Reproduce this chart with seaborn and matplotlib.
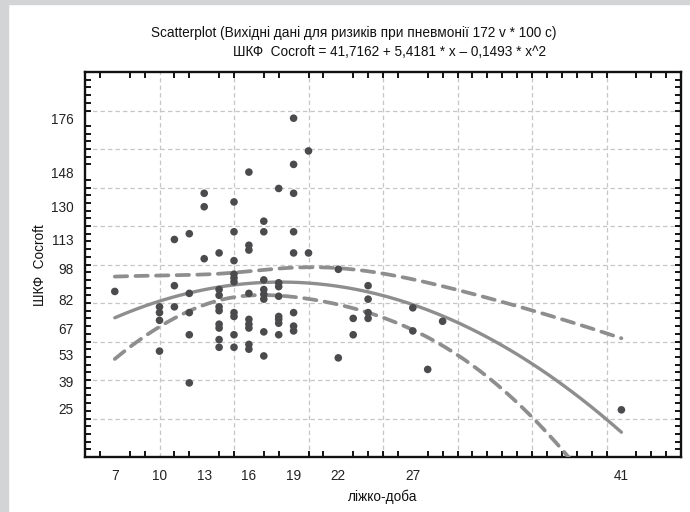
import numpy as np
import pandas as pd
import matplotlib
matplotlib.use("Agg")
import matplotlib.pyplot as plt
from matplotlib.patches import Rectangle
from matplotlib.ticker import MultipleLocator
import seaborn as sns

# ---- data ----
bed_days = ([7] + [10] * 4 + [11] * 3 + [12] * 5 + [13] * 3 + [14] * 9 + [15] * 10
            + [16] * 9 + [17] * 8 + [18] * 8 + [19] * 8 + [20] * 2 + [22] * 2
            + [23] * 2 + [24] * 4 + [27] * 2 + [28] + [29] + [41])
gfr = ([86]
       + [78, 75, 71, 55]
       + [113, 89, 78]
       + [116, 85, 75, 63.5, 38.5]
       + [137, 130, 103]
       + [106, 87, 84, 78, 76, 69, 67, 61, 57]
       + [132.5, 117, 102, 95, 93, 91, 75, 73, 63.5, 57]
       + [148, 110, 107.5, 85, 71.5, 69, 67, 58.5, 56]
       + [122.5, 117, 92, 87, 84.5, 82, 65, 52.5]
       + [139.5, 90.5, 88.5, 83.5, 73, 71.5, 69.5, 63.5]
       + [176, 152, 137, 117, 106, 75, 68, 65.5]
       + [159, 106]
       + [97.5, 51.5]
       + [72, 63.5]
       + [89, 82, 75, 72]
       + [77.5, 65.5]
       + [45.5]
       + [70.5]
       + [24.5])
coef = [41.7162, 5.4181, -0.1493]
x_ticks = [7, 10, 13, 16, 19, 22, 27, 41]
y_ticks = [25, 39, 53, 67, 82, 98, 113, 130, 148, 176]

title1 = "Scatterplot (Вихідні дані для ризиків при пневмонії 172 v * 100 c)"
title2 = "ШКФ  Cocroft = 41,7162 + 5,4181 * x – 0,1493 * x^2"
xlabel = "ліжко-доба"
ylabel = "ШКФ  Cocroft"

df = pd.DataFrame({"x": bed_days, "y": gfr})

# ---- quadratic fit & 95% confidence band ----
xg = np.linspace(min(bed_days), max(bed_days), 300)
fit = coef[0] + coef[1] * xg + coef[2] * xg ** 2
X = np.column_stack([np.ones(len(df)), df.x, df.x ** 2])
resid = df.y - X @ np.array(coef)
s2 = (resid ** 2).sum() / (len(df) - 3)
XtXi = np.linalg.inv(X.T @ X)
Xg = np.column_stack([np.ones_like(xg), xg, xg ** 2])
se = np.sqrt(s2 * np.einsum("ij,jk,ik->i", Xg, XtXi, Xg))
tval = 1.99
lower = fit - tval * se
upper = fit + tval * se

# ---- figure ----
sns.set_theme(style="white")
plt.rcParams["font.family"] = ["Liberation Sans", "DejaVu Sans"]

fig = plt.figure(figsize=(6.9, 5.12), dpi=100)
fig.patch.set_facecolor("white")
border = "#d3d4d6"
fig.patches.append(Rectangle((0, 0), 8 / 690, 1, transform=fig.transFigure,
                             color=border, zorder=0))
fig.patches.append(Rectangle((0, 1 - 4 / 512), 1, 4 / 512, transform=fig.transFigure,
                             color=border, zorder=0))

ax = fig.add_axes([85 / 690, 55 / 512, 596 / 690, 385 / 512])
ax.set_xlim(5, 45)
ax.set_ylim(0, 200)

grid_kw = dict(color="#c6c6c6", lw=0.9, linestyle=(0, (3.5, 2.5)), zorder=0)
for gx in range(10, 45, 5):
    ax.axvline(gx, **grid_kw)
for gy in range(20, 200, 20):
    ax.axhline(gy, **grid_kw)

line_col = "#8e8e8e"
sns.lineplot(x=xg, y=fit, ax=ax, color=line_col, lw=2.4, zorder=3)
sns.lineplot(x=xg, y=upper, ax=ax, color=line_col, lw=2.7, zorder=3,
             linestyle=(0, (3.3, 2.2)), dash_capstyle="round")
sns.lineplot(x=xg, y=lower, ax=ax, color=line_col, lw=2.7, zorder=3,
             linestyle=(0, (3.3, 2.2)), dash_capstyle="round")
sns.scatterplot(data=df, x="x", y="y", ax=ax, color="#4b4b4d", s=30,
                edgecolor="none", zorder=4)

ax.set_xticks(x_ticks)
ax.set_xticklabels([str(v) for v in x_ticks])
ax.set_yticks(y_ticks)
ax.set_yticklabels([str(v) for v in y_ticks])
ax.xaxis.set_minor_locator(MultipleLocator(1))
ax.yaxis.set_minor_locator(MultipleLocator(4))
ax.tick_params(which="major", length=0, labelsize=9.8, colors="#222222")
ax.tick_params(axis="x", which="major", pad=9)
ax.tick_params(axis="y", which="major", pad=8)
ax.tick_params(which="minor", direction="in", length=4, width=1.3, color="black",
               top=True, right=True, bottom=True, left=True)
for sp in ax.spines.values():
    sp.set_color("#111111")
    sp.set_linewidth(1.7)
ax.set_xlabel("")
ax.set_ylabel("")

fig.text(354 / 690, 1 - 33 / 512, title1, ha="center", va="center",
         fontsize=9.8, color="#111111")
fig.text(390 / 690, 1 - 52 / 512, title2, ha="center", va="center",
         fontsize=9.8, color="#111111")
fig.text(383 / 690, 1 - 497 / 512, xlabel, ha="center", va="center",
         fontsize=9.8, color="#111111")
fig.text(40 / 690, 1 - 265 / 512, ylabel, ha="center", va="center",
         rotation=90, fontsize=9.8, color="#111111")

fig.savefig("out.png", dpi=100, facecolor="white")
